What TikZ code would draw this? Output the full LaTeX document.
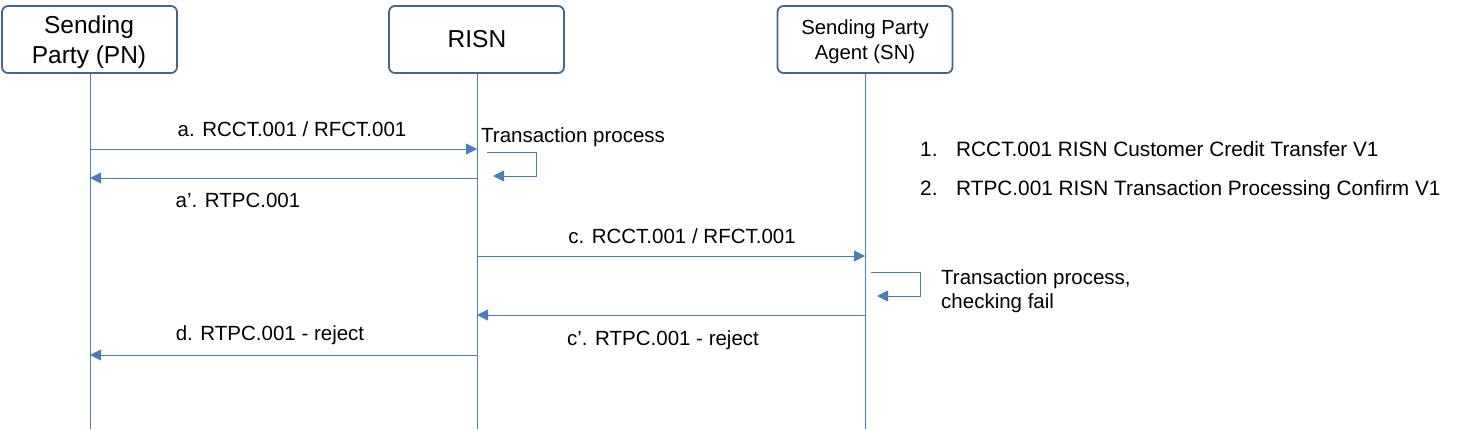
\documentclass[tikz,border=0pt]{standalone}
\usepackage{fontspec}
\setmainfont{Liberation Sans}
\usetikzlibrary{arrows.meta}
\definecolor{boxline}{HTML}{41678F}
\definecolor{msgline}{HTML}{4A7EBB}
\begin{document}
\begin{tikzpicture}[x=1pt,y=-1pt,
  actor/.style={draw=boxline,line width=1.8pt,rounded corners=6pt,fill=white,
    minimum width=175pt,minimum height=67pt,inner sep=0pt},
  bigtxt/.style={font=\fontsize{24.5}{30}\selectfont,anchor=base,inner sep=0pt},
  midtxt/.style={font=\fontsize{20.3}{25}\selectfont,anchor=base,inner sep=0pt},
  lifeline/.style={draw=msgline,line width=0.9pt},
  msg/.style={draw=msgline,line width=0.9pt,-{Triangle[length=11pt,width=11pt]}},
  lbl/.style={font=\fontsize{20.5}{25}\selectfont,anchor=base,inner sep=0pt},
  lblw/.style={font=\fontsize{20.5}{25}\selectfont,anchor=base west,inner sep=0pt},
  leg/.style={font=\fontsize{20.8}{25}\selectfont,anchor=base west,inner sep=0pt}]
\useasboundingbox (0,0) rectangle (1477,429);
% actors
\node[actor] (pn) at (89.5,39.5) {};
\node[bigtxt] (pnT1) at (89,33) {Sending};
\node[bigtxt] (pnT2) at (89,63) {Party (PN)};
\node[actor] (risn) at (476.5,39.5) {};
\node[bigtxt] (risnT) at (477,47) {RISN};
\node[actor] (sn) at (865,39.5) {};
\node[midtxt] (snT1) at (865,34) {Sending Party};
\node[midtxt] (snT2) at (865,59) {Agent (SN)};
% lifeline ends
\coordinate (pnE) at (90,429);
\coordinate (risnE) at (477,429);
\coordinate (snE) at (865,429);
\draw[lifeline] (pn.south -| pnE) -- (pnE);
\draw[lifeline] (risn.south -| risnE) -- (risnE);
\draw[lifeline] (sn.south -| snE) -- (snE);
% message points
\coordinate (pnA) at (90,149);   \coordinate (risnA) at (477,149);
\coordinate (pnB) at (90,178);   \coordinate (risnB) at (477,178);
\coordinate (risnC) at (477,256); \coordinate (snC) at (865,256);
\coordinate (risnD) at (477,315); \coordinate (snD) at (865,315);
\coordinate (pnE2) at (90,355);  \coordinate (risnE2) at (477,355);
\draw[msg] (pnA) -- (risnA);
\draw[msg] (risnB) -- (pnB);
\draw[msg] (risnC) -- (snC);
\draw[msg] (snD) -- (risnD);
\draw[msg] (risnE2) -- (pnE2);
% self loops
\coordinate (l1s) at (487,152); \coordinate (l1e) at (493,176);
\draw[msg] (l1s) -- (536,152) -- (536,176) -- (l1e);
\coordinate (l2s) at (871,272); \coordinate (l2e) at (877,296);
\draw[msg] (l2s) -- (920,272) -- (920,296) -- (l2e);
% labels
\node[lbl] (la) at (292,136) {a. RCCT.001 / RFCT.001};
\node[lbl] (lap) at (238,207) {a’. RTPC.001};
\node[lblw] (tp1) at (481,142) {Transaction process};
\node[lbl] (lc) at (682,243) {c. RCCT.001 / RFCT.001};
\node[lblw] (tp2) at (941,284) {Transaction process,};
\node[lblw] (tp3) at (941,308) {checking fail};
\node[lbl] (lcp) at (663,345) {c’. RTPC.001 - reject};
\node[lbl] (ld) at (270,340) {d. RTPC.001 - reject};
% legend
\node[leg] (n1) at (920,156) {1.};
\node[leg] (t1) at (956,156) {RCCT.001 RISN Customer Credit Transfer V1};
\node[leg] (n2) at (920,195) {2.};
\node[leg] (t2) at (956,195) {RTPC.001 RISN Transaction Processing Confirm V1};
\end{tikzpicture}
\end{document}
